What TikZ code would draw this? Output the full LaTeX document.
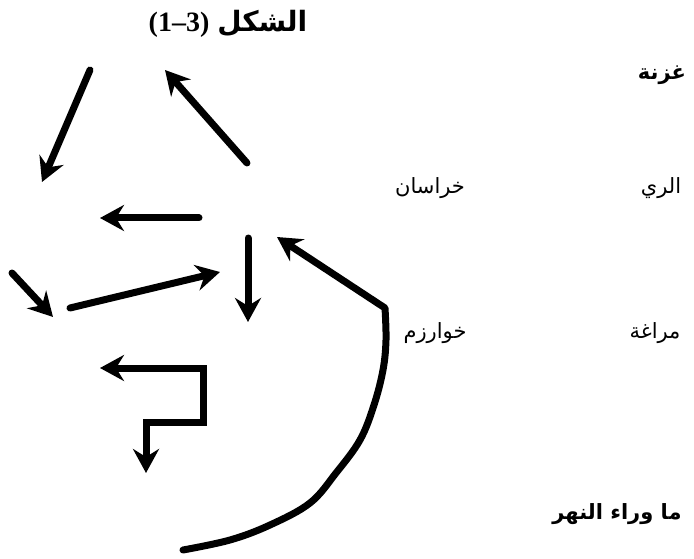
\documentclass[tikz,border=0pt]{standalone}
\usepackage{fontspec}
\setmainfont{Liberation Serif}
\newfontfamily\arabicfont[Script=Arabic]{DejaVu Sans}
\TeXXeTstate=1
\usetikzlibrary{arrows.meta}
\begin{document}
\begin{tikzpicture}[x=1pt,y=-1pt,
  arr/.style={line width=7pt, line cap=round, line join=round, -{Stealth[length=24pt,width=26pt,inset=8pt]}},
  darr/.style={line width=7pt, line join=miter, {Stealth[length=24pt,width=26pt,inset=8pt]}-{Stealth[length=24pt,width=26pt,inset=8pt]}},
  lbl/.style={font=\arabicfont\fontsize{21}{24}\selectfont, inner sep=0pt},
  blbl/.style={font=\arabicfont\bfseries\fontsize{21}{24}\selectfont, inner sep=0pt}]
\useasboundingbox (0,0) rectangle (694,559);
% title
\node[inner sep=0pt] (title) at (228,24) {\fontsize{28}{32}\selectfont\bfseries (1--3)\hspace{8pt}{\arabicfont\beginR الشكل\endR}};
% labels
\node[blbl] (ghazna) at (662,75) {\beginR غزنة\endR};
\node[lbl] (rayy) at (661,188) {\beginR الري\endR};
\node[lbl] (khurasan) at (430,188) {\beginR خراسان\endR};
\node[lbl] (maragha) at (655,333) {\beginR مراغة\endR};
\node[lbl] (khwarazm) at (435,333) {\beginR خوارزم\endR};
\node[blbl] (transox) at (617,514) {\beginR ما وراء النهر\endR};
% arrow coordinates
\coordinate (a1s) at (90,70);   \coordinate (a1e) at (42,182);
\coordinate (a2s) at (247,163); \coordinate (a2e) at (165,70);
\coordinate (a3s) at (199,218); \coordinate (a3e) at (100,218);
\coordinate (a4s) at (12,273);  \coordinate (a4e) at (53,317);
\coordinate (a5s) at (70,308);  \coordinate (a5e) at (220,272);
\coordinate (a6s) at (248,238); \coordinate (a6e) at (248,322);
\coordinate (l1) at (100,368); \coordinate (l2) at (203,368);
\coordinate (l3) at (203,422); \coordinate (l4) at (146,422);
\coordinate (l5) at (146,473);
\coordinate (c0) at (183,550);
\coordinate (ck) at (385,308); \coordinate (ce) at (277,237);
\draw[arr] (a1s) -- (a1e);
\draw[arr] (a2s) -- (a2e);
\draw[arr] (a3s) -- (a3e);
\draw[arr] (a4s) -- (a4e);
\draw[arr] (a5s) -- (a5e);
\draw[arr] (a6s) -- (a6e);
\draw[darr] (l1) -- (l2) -- (l3) -- (l4) -- (l5);
\draw[arr] plot[smooth, tension=0.6] coordinates {(c0) (230,540) (270,525) (310,503) (336,473) (360,440) (374,405) (383,370) (386,340) (ck)} -- (ce);
\end{tikzpicture}
\end{document}
